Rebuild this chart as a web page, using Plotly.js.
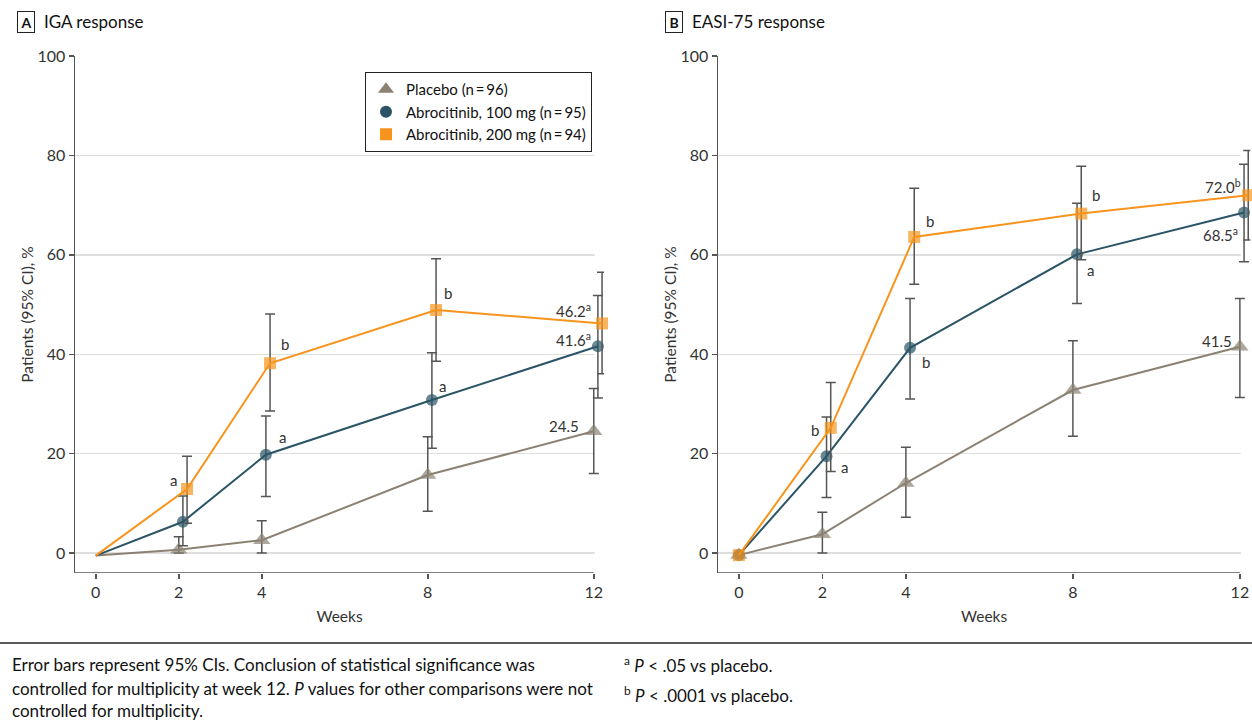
<!DOCTYPE html>
<html>
<head>
<meta charset="utf-8">
<script src="https://cdn.plot.ly/plotly-3.0.1.min.js"></script>
<style>html,body{margin:0;padding:0;background:#fff;}#chart{width:1252px;height:721px;}</style>
</head>
<body>
<div id="chart"></div>
<script>
// ---------------- DATA ----------------
const weeks = [0, 2, 4, 8, 12];
const weekTicks = [0, 2, 4, 8, 12];
const yTicks = [0, 20, 40, 60, 80, 100];
const seriesNames = ['Placebo (n\u2009=\u200996)', 'Abrocitinib, 100 mg (n\u2009=\u200995)', 'Abrocitinib, 200 mg (n\u2009=\u200994)'];
const panelTitles = ['IGA response', 'EASI-75 response'];
const panelLetters = ['A', 'B'];

// Panel A: IGA response (% patients)
const igaPlacebo = [-0.5, 0.7, 2.6, 15.7, 24.5];
const igaPlaceboLow = [null, 0, 0, 8.4, 16.0];
const igaPlaceboHigh = [null, 3.3, 6.5, 23.4, 33.1];
const iga100 = [-0.5, 6.3, 19.8, 30.8, 41.6];
const iga100Low = [null, 1.5, 11.4, 21.1, 31.2];
const iga100High = [null, 11.5, 27.6, 40.3, 51.8];
const iga200 = [-0.5, 12.9, 38.2, 48.9, 46.2];
const iga200Low = [null, 6.0, 28.6, 38.6, 36.1];
const iga200High = [null, 19.5, 48.1, 59.2, 56.5];
const igaSig100 = ['', '', 'a', 'a', 'a'];
const igaSig200 = ['', 'a', 'b', 'b', 'a'];

// Panel B: EASI-75 response (% patients)
const easiPlacebo = [-0.4, 3.8, 14.1, 32.8, 41.5];
const easiPlaceboLow = [null, 0, 7.2, 23.5, 31.3];
const easiPlaceboHigh = [null, 8.2, 21.3, 42.7, 51.2];
const easi100 = [-0.4, 19.5, 41.3, 60.1, 68.5];
const easi100Low = [null, 11.2, 31.0, 50.2, 58.6];
const easi100High = [null, 27.4, 51.2, 70.4, 78.2];
const easi200 = [-0.4, 25.2, 63.6, 68.3, 72.0];
const easi200Low = [null, 16.4, 54.1, 59.0, 63.0];
const easi200High = [null, 34.3, 73.4, 77.8, 81.0];
const easiSig100 = ['', 'a', 'b', 'a', 'a'];
const easiSig200 = ['', 'b', 'b', 'b', 'b'];

const footLines = [
  'Error bars represent 95% CIs. Conclusion of statistical significance was',
  'controlled for multiplicity at week 12. <i>P</i> values for other comparisons were not',
  'controlled for multiplicity.'
];
const footNotes = ['<sup>a</sup> <i>P</i> < .05 vs placebo.', '<sup>b</sup> <i>P</i> < .0001 vs placebo.'];

// ---------------- STYLE ----------------
const FONT = 'Lato, "Open Sans", sans-serif';
const TXT = '#333333';
const colors = ['#8c8273', '#2b5566', '#f7941d'];
const symbols = ['triangle-up', 'circle', 'square'];
const sizes = [15, 12, 12];
const dodge = [0, 0.1, 0.2];
const ERR = '#555555';
const W = 1252, H = 721;
const XR = [-0.5, 12.25], YR = [-4, 100];
const yDom = [(H - 573) / H, (H - 56) / H];
const xDomA = [75 / W, (75 + 12.75 * 41.5) / W];
const xDomB = [718 / W, (718 + 12.75 * 41.75) / W];

function xs(s) { return weeks.map(w => w === 0 ? 0 : w + dodge[s]); }
function errs(v, lo, hi) {
  return {
    type: 'data', symmetric: false,
    array: v.map((d, i) => hi[i] == null ? NaN : hi[i] - d),
    arrayminus: v.map((d, i) => lo[i] == null ? NaN : d - lo[i]),
    color: ERR, thickness: 1.5, width: 5
  };
}
function trace(s, v, lo, hi, xa, ya, hideFirst) {
  return {
    type: 'scatter', mode: 'lines+markers', x: xs(s), y: v, xaxis: xa, yaxis: ya,
    line: { color: colors[s], width: 2 },
    marker: { color: colors[s], symbol: symbols[s], size: v.map((d, i) => (hideFirst && i === 0) ? 0 : sizes[s]), line: { width: 0 } },
    error_y: errs(v, lo, hi), cliponaxis: false, showlegend: false, hoverinfo: 'skip', name: seriesNames[s]
  };
}

const data = [
  trace(0, igaPlacebo, igaPlaceboLow, igaPlaceboHigh, 'x', 'y', true),
  trace(1, iga100, iga100Low, iga100High, 'x', 'y', true),
  trace(2, iga200, iga200Low, iga200High, 'x', 'y', true),
  trace(0, easiPlacebo, easiPlaceboLow, easiPlaceboHigh, 'x2', 'y2', false),
  trace(1, easi100, easi100Low, easi100High, 'x2', 'y2', false),
  trace(2, easi200, easi200Low, easi200High, 'x2', 'y2', false)
];
// legend-only entries (markers only)
for (let s = 0; s < 3; s++) {
  data.push({ type: 'scatter', mode: 'markers', x: [null], y: [null], xaxis: 'x', yaxis: 'y', name: seriesNames[s],
    marker: { color: colors[s], symbol: symbols[s], size: s === 0 ? 14 : 12 }, showlegend: true, hoverinfo: 'skip' });
}

// ---------------- ANNOTATIONS ----------------
const ann = [];
function lab(xa, ya, s, i, v, text, xanchor, dx, dy) {
  ann.push({ xref: xa, yref: ya, x: xs(s)[i], y: v[i], text: text, showarrow: false,
    xanchor: xanchor, yanchor: 'middle', xshift: dx, yshift: dy, font: { family: FONT, size: 15, color: TXT } });
}
function val(v, sig) { return v.toFixed(1) + (sig ? '<sup>' + sig + '</sup>' : ''); }
// Panel A
lab('x', 'y', 2, 1, iga200, igaSig200[1], 'right', -8, 9);
lab('x', 'y', 2, 2, iga200, igaSig200[2], 'left', 9, 19);
lab('x', 'y', 1, 2, iga100, igaSig100[2], 'left', 11, 18);
lab('x', 'y', 2, 3, iga200, igaSig200[3], 'left', 6, 17);
lab('x', 'y', 1, 3, iga100, igaSig100[3], 'left', 5, 14);
lab('x', 'y', 2, 4, iga200, val(iga200[4], igaSig200[4]), 'right', -9, 13);
lab('x', 'y', 1, 4, iga100, val(iga100[4], igaSig100[4]), 'right', -5, 7);
lab('x', 'y', 0, 4, igaPlacebo, val(igaPlacebo[4], ''), 'right', -13, 5);
// Panel B
lab('x2', 'y2', 2, 1, easi200, easiSig200[1], 'right', -10, -2);
lab('x2', 'y2', 1, 1, easi100, easiSig100[1], 'left', 12, -11);
lab('x2', 'y2', 2, 2, easi200, easiSig200[2], 'left', 10, 16);
lab('x2', 'y2', 1, 2, easi100, easiSig100[2], 'left', 10, -14);
lab('x2', 'y2', 2, 3, easi200, easiSig200[3], 'left', 9, 19);
lab('x2', 'y2', 1, 3, easi100, easiSig100[3], 'left', 8, -16);
lab('x2', 'y2', 2, 4, easi200, val(easi200[4], easiSig200[4]), 'right', -5, 9);
lab('x2', 'y2', 1, 4, easi100, val(easi100[4], easiSig100[4]), 'right', -4, -22);
lab('x2', 'y2', 0, 4, easiPlacebo, val(easiPlacebo[4], ''), 'right', -6, 6);

// panel letters and titles
const letterX = [25.5, 673.5], titleX = [42, 690];
for (let p = 0; p < 2; p++) {
  ann.push({ xref: 'paper', yref: 'paper', x: letterX[p] / W, y: (H - 22) / H, text: '<b>' + panelLetters[p] + '</b>',
    showarrow: false, xanchor: 'center', yanchor: 'middle', width: 13, height: 17, borderpad: 1.5,
    bordercolor: '#222', borderwidth: 1, font: { family: FONT, size: 14, color: '#111' } });
  ann.push({ xref: 'paper', yref: 'paper', x: titleX[p] / W, y: (H - 22) / H, text: panelTitles[p],
    showarrow: false, xanchor: 'left', yanchor: 'middle', font: { family: FONT, size: 17, color: '#111' } });
}
// footnotes
const footY = [664, 688, 710];
footLines.forEach((t, i) => ann.push({ xref: 'paper', yref: 'paper', x: 10 / W, y: (H - footY[i]) / H, text: t,
  showarrow: false, xanchor: 'left', yanchor: 'middle', font: { family: FONT, size: 17, color: '#111' } }));
const noteY = [664, 694];
footNotes.forEach((t, i) => ann.push({ xref: 'paper', yref: 'paper', x: 622 / W, y: (H - noteY[i]) / H, text: t,
  showarrow: false, xanchor: 'left', yanchor: 'middle', font: { family: FONT, size: 17, color: '#111' } }));

// ---------------- SHAPES ----------------
const shapes = [];
['x', 'x2'].forEach((xa, k) => {
  const ya = k === 0 ? 'y' : 'y2';
  // hide gridline overhang past week 12
  shapes.push({ type: 'rect', xref: xa, yref: ya, x0: 12.02, x1: XR[1], y0: YR[0], y1: YR[1], layer: 'between', fillcolor: '#ffffff', line: { width: 0 } });
  // x axis baseline (ends at week 12)
  shapes.push({ type: 'line', xref: xa, yref: ya, x0: XR[0], x1: 12, y0: YR[0], y1: YR[0], layer: 'above', line: { color: '#555', width: 1.5 } });
});
shapes.push({ type: 'line', xref: 'paper', yref: 'paper', x0: 0, x1: 1, y0: (H - 643) / H, y1: (H - 643) / H, line: { color: '#222', width: 1.5 } });

// ---------------- AXES ----------------
function xaxis(dom, anchor) {
  return { domain: dom, anchor: anchor, range: XR, tickmode: 'array', tickvals: weekTicks, ticktext: weekTicks.map(String),
    showgrid: false, zeroline: false, showline: false, ticks: 'outside', ticklen: 5, tickwidth: 1.5, tickcolor: '#555',
    tickfont: { family: FONT, size: 16, color: TXT }, automargin: false, fixedrange: true,
    title: { text: 'Weeks', font: { family: FONT, size: 15.5, color: TXT }, standoff: 10 } };
}
function yaxis(anchor) {
  return { domain: yDom, anchor: anchor, range: YR, tickmode: 'array', tickvals: yTicks, ticktext: yTicks.map(String),
    showgrid: true, gridcolor: '#dedede', gridwidth: 1.5, zeroline: false, showline: true, linecolor: '#555', linewidth: 1.5,
    ticks: 'outside', ticklen: 5, tickwidth: 1.5, tickcolor: '#555', tickfont: { family: FONT, size: 16, color: TXT },
    automargin: false, fixedrange: true,
    title: { text: 'Patients (95% CI), %', font: { family: FONT, size: 15.5, color: TXT }, standoff: 0 } };
}

const layout = {
  width: W, height: H, margin: { l: 0, r: 0, t: 0, b: 0 }, paper_bgcolor: '#fff', plot_bgcolor: '#fff',
  xaxis: xaxis(xDomA, 'y'), yaxis: yaxis('x'), xaxis2: xaxis(xDomB, 'y2'), yaxis2: yaxis('x2'),
  showlegend: true,
  legend: { x: 592 / W, xanchor: 'right', y: (H - 72) / H, yanchor: 'top', bgcolor: '#fff', bordercolor: '#222', borderwidth: 1,
    font: { family: FONT, size: 15, color: '#111' }, tracegroupgap: 0, itemwidth: 30 },
  annotations: ann, shapes: shapes, hovermode: false
};

Plotly.newPlot('chart', data, layout, { staticPlot: true, displayModeBar: false });
</script>
</body>
</html>
